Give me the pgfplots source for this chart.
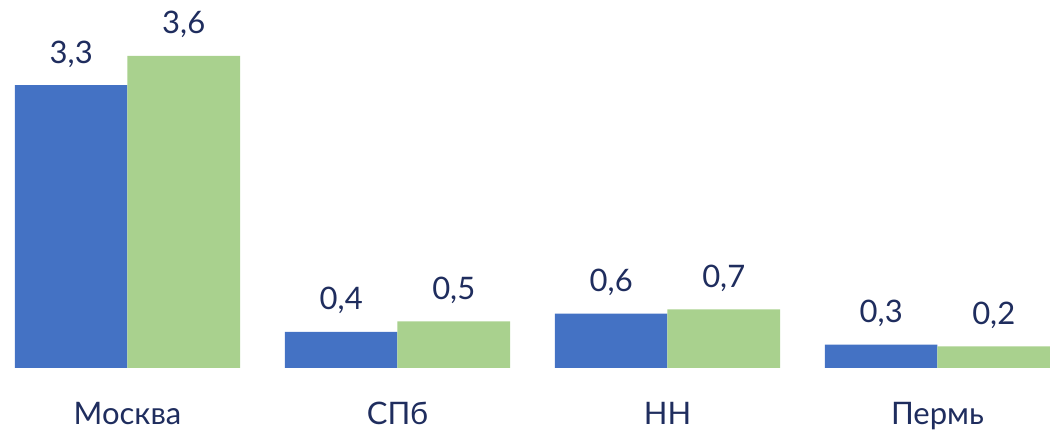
\documentclass[border=0pt]{standalone}
\usepackage{pgfplots}
\pgfplotsset{compat=1.18}
\usepackage{fontspec}
\setmainfont{Lato}
\definecolor{cblue}{HTML}{4472C4}
\definecolor{cgreen}{HTML}{A9D18E}
\definecolor{navy}{HTML}{1F2D5E}
\begin{document}
\begin{tikzpicture}
\useasboundingbox (0,0) rectangle (525pt,216pt);
\begin{axis}[
  at={(0pt,32pt)}, anchor=south west,
  scale only axis, width=525pt, height=184pt,
  xmin=-0.4722, xmax=3.4167, ymin=0, ymax=4.269,
  ybar=0pt, bar width=0.4167,
  axis line style={draw=none}, major tick length=0pt,
  ytick=\empty, xtick={0,1,2,3}, xticklabels={Москва,СПб,НН,Пермь},
  xticklabel style={anchor=base, yshift=-28.5pt, font=\fontsize{15.5}{18}\selectfont, text=navy},
  nodes near coords, point meta=explicit symbolic,
  every node near coord/.append style={anchor=base, yshift=11pt, font=\fontsize{15.5}{18}\selectfont, text=navy},
  clip=false,
]
\addplot[fill=cblue, draw=none] table[x=x, y=y, meta=label] {
x y label
0 3.28 3,3
1 0.42 0,4
2 0.63 0,6
3 0.27 0,3
};
\addplot[fill=cgreen, draw=none] table[x=x, y=y, meta=label] {
x y label
0 3.62 3,6
1 0.54 0,5
2 0.68 0,7
3 0.25 0,2
};
\end{axis}
\end{tikzpicture}
\end{document}
